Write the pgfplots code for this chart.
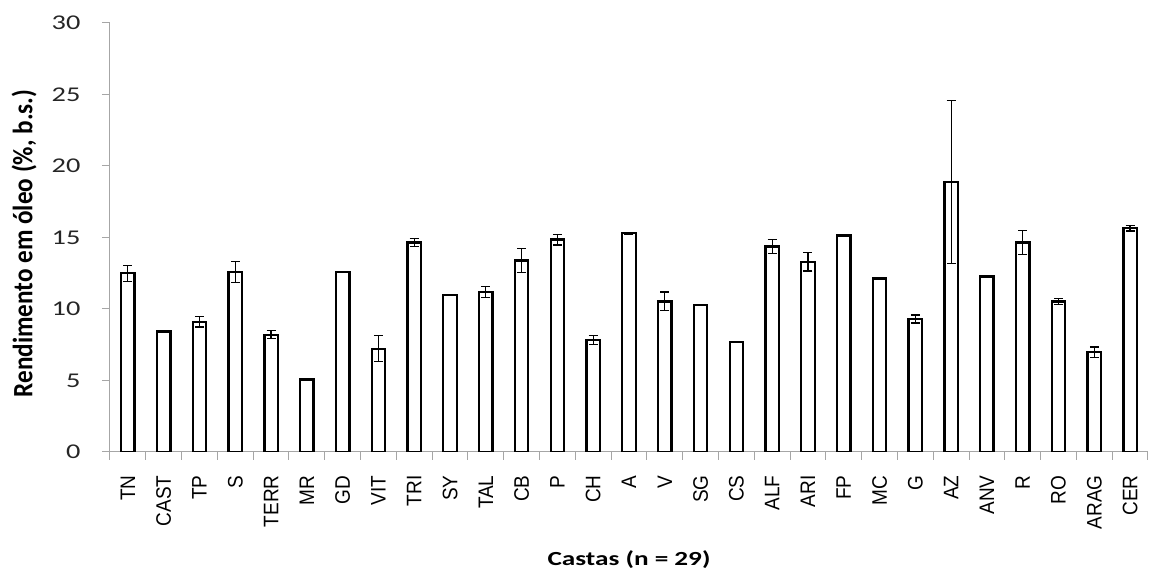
\documentclass[border=0pt]{standalone}
\usepackage{fontspec}
\setmainfont{Carlito}
\newfontfamily\arialf[FakeStretch=0.905]{Liberation Sans}
\newfontfamily\ylabf[FakeStretch=0.9]{Carlito}
\newfontfamily\tickf[FakeStretch=1.35]{Carlito}
\usepackage{pgfplots}
\usepackage{pgfplotstable}
\pgfplotsset{compat=1.18}
\pgfplotstableread{
idx name val err
0 TN 12.50 0.55
1 CAST 8.43 0.03
2 TP 9.11 0.37
3 S 12.59 0.74
4 TERR 8.20 0.28
5 MR 5.06 0.03
6 GD 12.59 0
7 VIT 7.22 0.90
8 TRI 14.66 0.28
9 SY 10.98 0
10 TAL 11.19 0.37
11 CB 13.40 0.84
12 P 14.85 0.37
13 CH 7.83 0.30
14 A 15.29 0.05
15 V 10.53 0.66
16 SG 10.28 0
17 CS 7.71 0.03
18 ALF 14.38 0.49
19 ARI 13.31 0.65
20 FP 15.15 0.05
21 MC 12.14 0.03
22 G 9.30 0.28
23 AZ 18.88 5.69
24 ANV 12.28 0.05
25 R 14.66 0.84
26 RO 10.53 0.19
27 ARAG 6.97 0.37
28 CER 15.64 0.19
}\datatable
\begin{document}
\begin{tikzpicture}
\begin{axis}[
  name=ax,
  scale only axis,
  width=1038pt, height=429pt,
  xmin=-0.5, xmax=28.5,
  ymin=0, ymax=30,
  axis lines=left,
  axis line style={-, draw=gray!70, line width=1pt},
  ytick={0,5,...,30},
  xtick={0,...,28},
  xticklabels={TN,CAST,TP,S,TERR,MR,GD,VIT,TRI,SY,TAL,CB,P,CH,A,V,SG,CS,ALF,ARI,FP,MC,G,AZ,ANV,R,RO,ARAG,CER},
  minor xtick={-0.5,0.5,...,28.5},
  tick align=outside,
  major tick length=8pt,
  minor tick length=8pt,
  major x tick style={draw=none},
  tick style={gray!70, line width=1pt},
  /pgf/number format/assume math mode=true,
  yticklabel style={font=\tickf\fontsize{21}{21}\selectfont, xshift=-18pt, text=black!85},
  xticklabel style={rotate=90, anchor=east, font=\arialf\fontsize{21}{21}\selectfont, xshift=-12pt},
  every axis x label/.style={at={(axis description cs:0.5,0)}, anchor=center, yshift=-108pt, xscale=1.36, font=\bfseries\fontsize{20}{20}\selectfont},
  every axis y label/.style={at={(axis description cs:0,0.5)}, xshift=-86pt, yshift=-6pt, rotate=90, anchor=center},
  xlabel={Castas (n = 29)},
  ylabel={\ylabf\bfseries\fontsize{28}{28}\selectfont Rendimento em óleo (\%, b.s.)},
  ybar, bar width=13.4pt,
]
\addplot[draw=black, fill=white, line width=2.3pt,
  error bars/.cd, y dir=both, y explicit,
  error bar style={line width=1.2pt, black},
  error mark options={rotate=90, mark size=4.5pt, line width=1.2pt, black}]
  table[x=idx, y=val, y error=err] {\datatable};
\end{axis}
\pgfresetboundingbox
\path[use as bounding box] ([xshift=-110pt,yshift=-117pt]ax.south west) rectangle ([xshift=1039pt,yshift=452pt]ax.south west);
\end{tikzpicture}
\end{document}
